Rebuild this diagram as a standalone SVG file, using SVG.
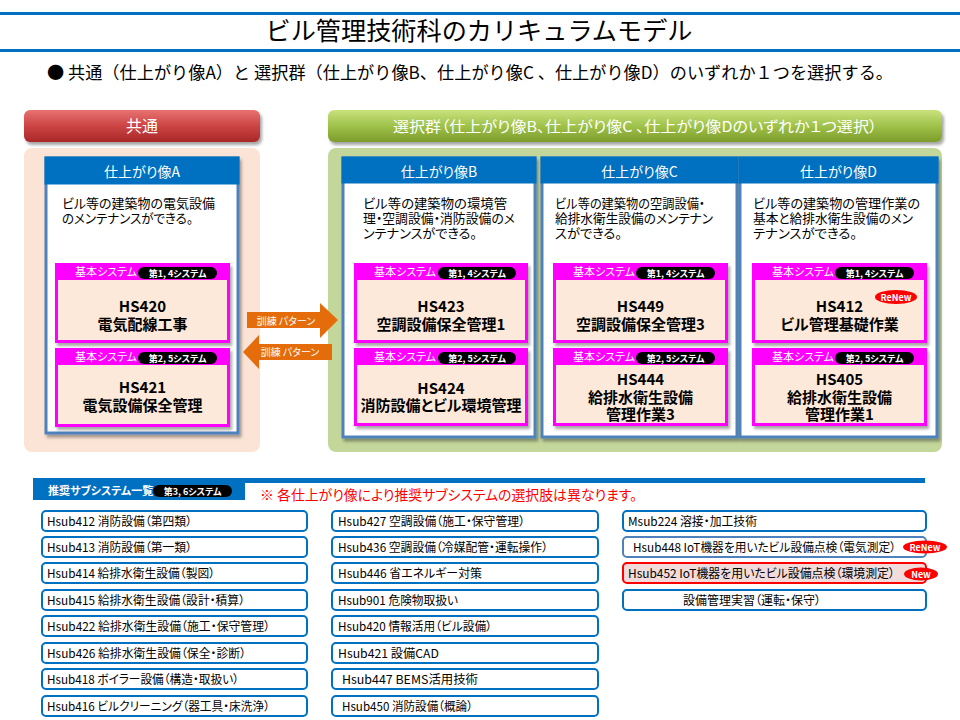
<svg xmlns="http://www.w3.org/2000/svg" width="960" height="720" viewBox="0 0 960 720">
<defs>
  <linearGradient id="gRed" x1="0" y1="0" x2="0" y2="1">
    <stop offset="0" stop-color="#e87272"/>
    <stop offset="0.5" stop-color="#cc4444"/>
    <stop offset="1" stop-color="#a82828"/>
  </linearGradient>
  <linearGradient id="gGreen" x1="0" y1="0" x2="0" y2="1">
    <stop offset="0" stop-color="#c9e27e"/>
    <stop offset="0.5" stop-color="#9fc24a"/>
    <stop offset="1" stop-color="#7c9c2a"/>
  </linearGradient>
  <filter id="sh" x="-10%" y="-10%" width="130%" height="140%">
    <feDropShadow dx="2" dy="3" stdDeviation="1.5" flood-color="#000" flood-opacity="0.35"/>
  </filter>
</defs>
<style>
  .jp{font-family:"Noto Sans CJK JP","Noto Sans",sans-serif}
  .p{font-feature-settings:"palt"}
  .hdr{fill:#0070c0}
  .box{fill:#fff;stroke:#4f81bd;stroke-width:3}
  .mg{fill:#ff00ff}
  .mgin{fill:#fde9d9}
  .pill{fill:#000}
  .pt{font-size:9px;font-weight:bold;fill:#fff}
  .bs{font-size:11px;fill:#fff}
  .code{font-size:15px;font-weight:bold;fill:#000}
  .desc{font-size:13px;fill:#000}
  .ht{font-size:14px;fill:#fff}
  .li{fill:#fff;stroke:#0070c0;stroke-width:2}
  .lt{font-size:12px;fill:#000}
  .arr{fill:#e46c0a}
  .at{font-size:10px;fill:#fff}
  .badge{fill:#ff0000}
  .bt{font-size:9px;font-weight:bold;fill:#fff}
</style>
<rect width="960" height="720" fill="#fff"/>

<!-- title -->
<g id="title">
  <rect x="0" y="12" width="960" height="3" fill="#0070c0"/>
  <rect x="0" y="49" width="960" height="3" fill="#0070c0"/>
  <text class="jp" x="479" y="40" font-size="25" text-anchor="middle" textLength="427" lengthAdjust="spacingAndGlyphs">ビル管理技術科のカリキュラムモデル</text>
  <text class="jp" x="47" y="79" font-size="17" textLength="846" lengthAdjust="spacingAndGlyphs">● 共通（仕上がり像A）と 選択群（仕上がり像B、仕上がり像C 、仕上がり像D）のいずれか１つを選択する。</text>
</g>

<!-- headers and panels -->
<g id="common">
  <rect x="24" y="148" width="236" height="304" rx="8" fill="#fbe4d5"/>
  <rect x="24" y="110" width="236" height="32" rx="6" fill="url(#gRed)" filter="url(#sh)"/>
  <text class="jp p" x="142" y="132" font-size="16" fill="#fff" text-anchor="middle">共通</text>
</g>
<g id="select-group">
  <rect x="328" y="148" width="614" height="304" rx="8" fill="#c4d79b"/>
  <rect x="328" y="110" width="614" height="32" rx="6" fill="url(#gGreen)" filter="url(#sh)"/>
  <text class="jp p" x="635" y="132" font-size="15" fill="#fff" text-anchor="middle" textLength="484" lengthAdjust="spacingAndGlyphs">選択群（仕上がり像B、仕上がり像C 、仕上がり像Dのいずれか１つ選択）</text>
</g>

<!-- node A -->
<g id="node-A">
  <rect class="box" x="46" y="158" width="192" height="275" filter="url(#sh)"/>
  <rect class="hdr" x="44.5" y="156.5" width="195" height="28"/>
  <text class="jp p ht" x="142" y="177" text-anchor="middle">仕上がり像A</text>
  <text class="jp p desc"><tspan x="62" y="208" textLength="153" lengthAdjust="spacingAndGlyphs">ビル等の建築物の電気設備</tspan><tspan x="62" y="223" textLength="131" lengthAdjust="spacingAndGlyphs">のメンテナンスができる。</tspan></text>
  <g id="HS420">
    <rect class="mg" x="55" y="263" width="175" height="80" filter="url(#sh)"/>
    <rect class="mgin" x="58" y="280" width="169" height="60"/>
    <text class="jp p bs" x="75" y="276">基本システム</text>
    <rect class="pill" x="138" y="267" width="79" height="12" rx="6"/>
    <text class="jp p pt" x="177.5" y="276.5" text-anchor="middle">第1, 4システム</text>
    <text class="jp p code" text-anchor="middle"><tspan x="142.5" y="312">HS420</tspan><tspan x="142.5" y="330">電気配線工事</tspan></text>
  </g>
  <g id="HS421">
    <rect class="mg" x="55" y="348" width="175" height="79" filter="url(#sh)"/>
    <rect class="mgin" x="58" y="365" width="169" height="59"/>
    <text class="jp p bs" x="75" y="361">基本システム</text>
    <rect class="pill" x="138" y="352" width="79" height="12" rx="6"/>
    <text class="jp p pt" x="177.5" y="361.5" text-anchor="middle">第2, 5システム</text>
    <text class="jp p code" text-anchor="middle"><tspan x="142.5" y="393">HS421</tspan><tspan x="142.5" y="411">電気設備保全管理</tspan></text>
  </g>
</g>

<!-- node B -->
<g id="node-B">
  <rect class="box" x="343" y="158" width="192" height="279" filter="url(#sh)"/>
  <rect class="hdr" x="341.5" y="156.5" width="195" height="27"/>
  <text class="jp p ht" x="439" y="177" text-anchor="middle">仕上がり像B</text>
  <text class="jp p desc"><tspan x="363" y="208" textLength="144" lengthAdjust="spacingAndGlyphs">ビル等の建築物の環境管</tspan><tspan x="363" y="223" textLength="152" lengthAdjust="spacingAndGlyphs">理・空調設備・消防設備のメ</tspan><tspan x="363" y="238" textLength="114" lengthAdjust="spacingAndGlyphs">ンテナンスができる。</tspan></text>
  <g id="HS423">
    <rect class="mg" x="354" y="263" width="174" height="80" filter="url(#sh)"/>
    <rect class="mgin" x="357" y="280" width="168" height="60"/>
    <text class="jp p bs" x="374" y="276">基本システム</text>
    <rect class="pill" x="438" y="267" width="78" height="12" rx="6"/>
    <text class="jp p pt" x="477" y="276.5" text-anchor="middle">第1, 4システム</text>
    <text class="jp p code" text-anchor="middle"><tspan x="441" y="312">HS423</tspan><tspan x="441" y="330">空調設備保全管理1</tspan></text>
  </g>
  <g id="HS424">
    <rect class="mg" x="354" y="348" width="174" height="78" filter="url(#sh)"/>
    <rect class="mgin" x="357" y="365" width="168" height="58"/>
    <text class="jp p bs" x="374" y="361">基本システム</text>
    <rect class="pill" x="438" y="352" width="78" height="12" rx="6"/>
    <text class="jp p pt" x="477" y="361.5" text-anchor="middle">第2, 5システム</text>
    <text class="jp p code" text-anchor="middle"><tspan x="441" y="394">HS424</tspan><tspan x="441" y="411">消防設備とビル環境管理</tspan></text>
  </g>
</g>

<!-- node C -->
<g id="node-C">
  <rect class="box" x="542" y="158" width="195" height="279" filter="url(#sh)"/>
  <rect class="hdr" x="540.5" y="156.5" width="198" height="27"/>
  <text class="jp p ht" x="639.5" y="177" text-anchor="middle">仕上がり像C</text>
  <text class="jp p desc"><tspan x="555" y="208" textLength="150" lengthAdjust="spacingAndGlyphs">ビル等の建築物の空調設備・</tspan><tspan x="555" y="223" textLength="158" lengthAdjust="spacingAndGlyphs">給排水衛生設備のメンテナン</tspan><tspan x="555" y="238" textLength="67" lengthAdjust="spacingAndGlyphs">スができる。</tspan></text>
  <g id="HS449">
    <rect class="mg" x="553" y="263" width="175" height="80" filter="url(#sh)"/>
    <rect class="mgin" x="556" y="280" width="169" height="60"/>
    <text class="jp p bs" x="573" y="276">基本システム</text>
    <rect class="pill" x="636" y="267" width="79" height="12" rx="6"/>
    <text class="jp p pt" x="675.5" y="276.5" text-anchor="middle">第1, 4システム</text>
    <text class="jp p code" text-anchor="middle"><tspan x="640.5" y="312">HS449</tspan><tspan x="640.5" y="330">空調設備保全管理3</tspan></text>
  </g>
  <g id="HS444">
    <rect class="mg" x="553" y="348" width="175" height="78" filter="url(#sh)"/>
    <rect class="mgin" x="556" y="365" width="169" height="58"/>
    <text class="jp p bs" x="573" y="361">基本システム</text>
    <rect class="pill" x="636" y="352" width="79" height="12" rx="6"/>
    <text class="jp p pt" x="675.5" y="361.5" text-anchor="middle">第2, 5システム</text>
    <text class="jp p code" text-anchor="middle"><tspan x="640.5" y="385">HS444</tspan><tspan x="640.5" y="403">給排水衛生設備</tspan><tspan x="640.5" y="420">管理作業3</tspan></text>
  </g>
</g>

<!-- node D -->
<g id="node-D">
  <rect class="box" x="740" y="158" width="197" height="279" filter="url(#sh)"/>
  <rect class="hdr" x="738.5" y="156.5" width="200" height="27"/>
  <text class="jp p ht" x="838.5" y="177" text-anchor="middle">仕上がり像D</text>
  <text class="jp p desc"><tspan x="753" y="208" textLength="167" lengthAdjust="spacingAndGlyphs">ビル等の建築物の管理作業の</tspan><tspan x="753" y="223" textLength="160" lengthAdjust="spacingAndGlyphs">基本と給排水衛生設備のメン</tspan><tspan x="753" y="238" textLength="104" lengthAdjust="spacingAndGlyphs">テナンスができる。</tspan></text>
  <g id="HS412">
    <rect class="mg" x="752" y="263" width="175" height="80" filter="url(#sh)"/>
    <rect class="mgin" x="755" y="280" width="169" height="60"/>
    <text class="jp p bs" x="772" y="276">基本システム</text>
    <rect class="pill" x="835" y="267" width="79" height="12" rx="6"/>
    <text class="jp p pt" x="874.5" y="276.5" text-anchor="middle">第1, 4システム</text>
    <ellipse class="badge" cx="896" cy="297" rx="21" ry="7"/>
    <text class="jp bt" x="896" y="300.5" text-anchor="middle">ReNew</text>
    <text class="jp p code" text-anchor="middle"><tspan x="839.5" y="312">HS412</tspan><tspan x="839.5" y="330">ビル管理基礎作業</tspan></text>
  </g>
  <g id="HS405">
    <rect class="mg" x="752" y="348" width="175" height="78" filter="url(#sh)"/>
    <rect class="mgin" x="755" y="365" width="169" height="58"/>
    <text class="jp p bs" x="772" y="361">基本システム</text>
    <rect class="pill" x="835" y="352" width="79" height="12" rx="6"/>
    <text class="jp p pt" x="874.5" y="361.5" text-anchor="middle">第2, 5システム</text>
    <text class="jp p code" text-anchor="middle"><tspan x="839.5" y="385">HS405</tspan><tspan x="839.5" y="403">給排水衛生設備</tspan><tspan x="839.5" y="420">管理作業1</tspan></text>
  </g>
</g>

<!-- connectors -->
<g id="connectors">
  <polygon class="arr" points="247,312 320,312 320,303 338,320 320,338 320,328 247,328"/>
  <text class="jp p at" x="286" y="325" text-anchor="middle">訓練 パターン</text>
  <polygon class="arr" points="332,344 259,344 259,335 243,352 259,369 259,360 332,360"/>
  <text class="jp p at" x="290" y="356" text-anchor="middle">訓練 パターン</text>
</g>

<!-- sub systems -->
<g id="subsystems-header">
  <rect x="33" y="478" width="892" height="5" fill="#0070c0"/>
  <rect x="33" y="478" width="212" height="22" fill="#0070c0"/>
  <text class="jp p" x="48" y="495" font-size="11" font-weight="bold" fill="#fff">推奨サブシステム一覧</text>
  <rect class="pill" x="153" y="485" width="79" height="12" rx="6"/>
  <text class="jp p pt" x="192.5" y="494.5" text-anchor="middle">第3, 6システム</text>
  <text class="jp p" x="260" y="500" font-size="14" fill="#ff0000" textLength="377" lengthAdjust="spacingAndGlyphs">※ 各仕上がり像により推奨サブシステムの選択肢は異なります。</text>
</g>

<g id="list-col1">
  <rect class="li" x="42" y="511" width="265" height="20" rx="4"/>
  <text class="jp p lt" x="47" y="526" textLength="145" lengthAdjust="spacingAndGlyphs">Hsub412 消防設備（第四類）</text>
  <rect class="li" x="42" y="537" width="265" height="20" rx="4"/>
  <text class="jp p lt" x="47" y="552" textLength="145" lengthAdjust="spacingAndGlyphs">Hsub413 消防設備（第一類）</text>
  <rect class="li" x="42" y="563" width="265" height="20" rx="4"/>
  <text class="jp p lt" x="47" y="578" textLength="168" lengthAdjust="spacingAndGlyphs">Hsub414 給排水衛生設備（製図）</text>
  <rect class="li" x="42" y="590" width="265" height="20" rx="4"/>
  <text class="jp p lt" x="47" y="605" textLength="198" lengthAdjust="spacingAndGlyphs">Hsub415 給排水衛生設備（設計・積算）</text>
  <rect class="li" x="42" y="616" width="265" height="20" rx="4"/>
  <text class="jp p lt" x="47" y="631" textLength="223" lengthAdjust="spacingAndGlyphs">Hsub422 給排水衛生設備（施工・保守管理）</text>
  <rect class="li" x="42" y="643" width="265" height="20" rx="4"/>
  <text class="jp p lt" x="47" y="658" textLength="199" lengthAdjust="spacingAndGlyphs">Hsub426 給排水衛生設備（保全・診断）</text>
  <rect class="li" x="42" y="669" width="265" height="20" rx="4"/>
  <text class="jp p lt" x="47" y="684" textLength="192" lengthAdjust="spacingAndGlyphs">Hsub418 ボイラー設備（構造・取扱い）</text>
  <rect class="li" x="42" y="696" width="265" height="20" rx="4"/>
  <text class="jp p lt" x="47" y="711" textLength="223" lengthAdjust="spacingAndGlyphs">Hsub416 ビルクリーニング（器工具・床洗浄）</text>
</g>

<g id="list-col2">
  <rect class="li" x="332" y="511" width="266" height="20" rx="4"/>
  <text class="jp p lt" x="338" y="526" textLength="187" lengthAdjust="spacingAndGlyphs">Hsub427 空調設備（施工・保守管理）</text>
  <rect class="li" x="332" y="537" width="266" height="20" rx="4"/>
  <text class="jp p lt" x="338" y="552" textLength="210" lengthAdjust="spacingAndGlyphs">Hsub436 空調設備（冷媒配管・運転操作）</text>
  <rect class="li" x="332" y="563" width="266" height="20" rx="4"/>
  <text class="jp p lt" x="338" y="578" textLength="144" lengthAdjust="spacingAndGlyphs">Hsub446 省エネルギー対策</text>
  <rect class="li" x="332" y="590" width="266" height="20" rx="4"/>
  <text class="jp p lt" x="338" y="605" textLength="120" lengthAdjust="spacingAndGlyphs">Hsub901 危険物取扱い</text>
  <rect class="li" x="332" y="616" width="266" height="20" rx="4"/>
  <text class="jp p lt" x="338" y="631" textLength="154" lengthAdjust="spacingAndGlyphs">Hsub420 情報活用（ビル設備）</text>
  <rect class="li" x="332" y="643" width="266" height="20" rx="4"/>
  <text class="jp p lt" x="338" y="658" textLength="101" lengthAdjust="spacingAndGlyphs">Hsub421 設備CAD</text>
  <rect class="li" x="332" y="669" width="266" height="20" rx="4"/>
  <text class="jp p lt" x="342" y="684" textLength="136" lengthAdjust="spacingAndGlyphs">Hsub447 BEMS活用技術</text>
  <rect class="li" x="332" y="696" width="266" height="20" rx="4"/>
  <text class="jp p lt" x="342" y="711" textLength="131" lengthAdjust="spacingAndGlyphs">Hsub450 消防設備（概論）</text>
</g>

<g id="list-col3">
  <rect class="li" x="623" y="511" width="303" height="20" rx="4"/>
  <text class="jp p lt" x="628" y="526" textLength="129" lengthAdjust="spacingAndGlyphs">Msub224 溶接・加工技術</text>
  <rect class="li" x="623" y="537" width="303" height="20" rx="4" style="stroke:#4f81bd"/>
  <text class="jp p lt" x="633" y="552" textLength="263" lengthAdjust="spacingAndGlyphs">Hsub448 IoT機器を用いたビル設備点検（電気測定）</text>
  <ellipse class="badge" cx="925" cy="547" rx="22" ry="6.5"/>
  <text class="jp bt" x="925" y="550.5" text-anchor="middle">ReNew</text>
  <rect class="li" x="623" y="563" width="303" height="20" rx="4" style="stroke:#ff0000;fill:#f2dcdb"/>
  <text class="jp p lt" x="628" y="578" textLength="267" lengthAdjust="spacingAndGlyphs">Hsub452 IoT機器を用いたビル設備点検（環境測定）</text>
  <ellipse class="badge" cx="921" cy="574" rx="17" ry="6.5"/>
  <text class="jp bt" x="921" y="577.5" text-anchor="middle">New</text>
  <rect class="li" x="623" y="590" width="303" height="20" rx="4"/>
  <text class="jp p lt" x="683" y="605" textLength="138" lengthAdjust="spacingAndGlyphs">設備管理実習（運転・保守）</text>
</g>
</svg>
